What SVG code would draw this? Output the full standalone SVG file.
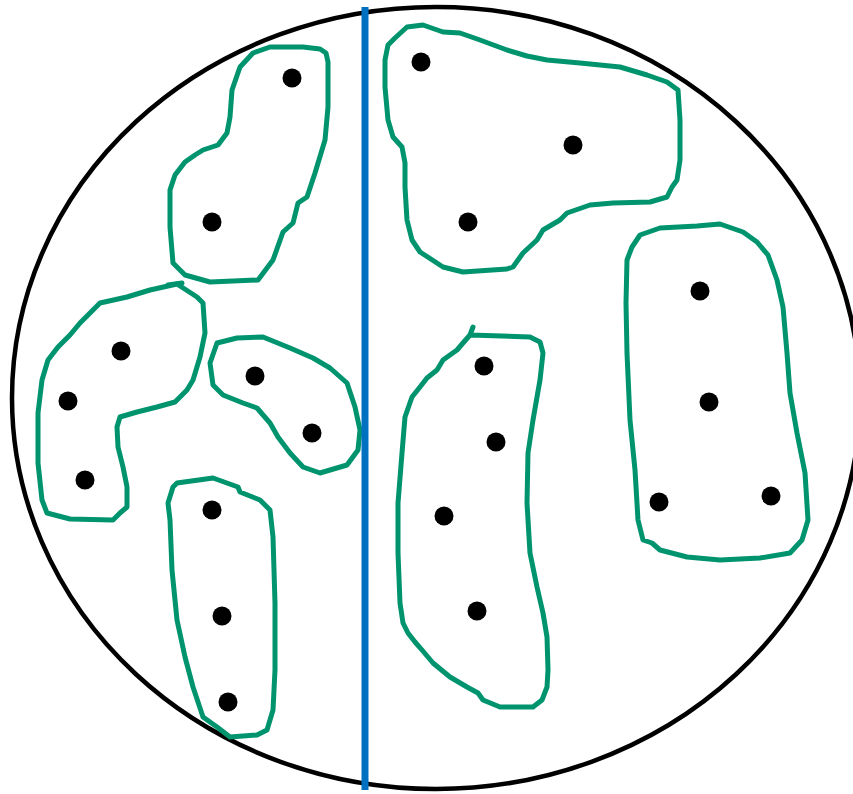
<svg xmlns="http://www.w3.org/2000/svg" width="853" height="794" viewBox="0 0 853 794">
<style>
.blob{fill:none;stroke:#00946e;stroke-width:5;stroke-linejoin:round;stroke-linecap:round}
.dot{fill:#000}
</style>
<rect width="853" height="794" fill="#fff"/>
<ellipse cx="436" cy="398" rx="424" ry="391" fill="none" stroke="#000" stroke-width="4.5"/>
<g id="blob1"><polygon class="blob" points="303,47 320,49 326,53 328,62 328,107 325,140 315,173 307,197 298,203 293,223 283,232 273,260 258,280 210,282 185,275 173,263 170,227 170,190 175,175 185,162 195,155 203,150 218,145 227,133 230,117 232,90 240,67 253,53 270,47"/></g>
<g id="blob2"><polygon class="blob" points="177,284 197,297 203,303 205,333 200,357 193,380 187,390 175,402 157,407 137,412 120,417 117,427 118,447 123,467 127,487 127,507 120,513 113,520 70,519 47,513 42,500 38,463 38,413 42,380 48,360 58,347 70,335 80,323 100,303 127,297 150,290"/><line class="blob" x1="168" y1="285" x2="182" y2="283"/></g>
<g id="blob3"><polygon class="blob" points="217,343 237,338 263,337 290,348 313,358 330,368 347,383 355,407 360,430 358,450 347,465 320,473 303,467 290,453 278,437 270,423 257,408 243,403 223,395 213,385 210,363"/></g>
<g id="blob4"><polygon class="blob" points="177,483 213,478 238,487 240,492 260,500 270,510 273,537 275,603 275,670 273,710 267,730 257,735 230,737 217,727 203,717 193,687 185,657 177,620 172,570 170,520 168,503 173,487"/></g>
<g id="blob5"><polygon class="blob" points="407,27 423,25 443,32 460,33 480,40 507,50 527,56 547,60 580,63 620,67 647,75 667,82 678,90 680,120 680,160 677,180 672,187 667,197 650,202 613,203 590,205 567,213 560,220 543,230 537,240 523,253 513,267 507,269 463,272 443,267 420,252 412,240 407,220 405,187 405,163 402,147 393,137 388,120 385,87 385,60 388,45 395,38"/></g>
<g id="blob6"><polyline class="blob" points="473,327 470,335 530,337 540,342 543,353 540,380 533,420 528,453 527,503 530,553 537,587 543,613 547,637 548,670 547,687 542,700 533,707 500,707 483,700 478,693 467,687 450,677 433,663 422,650 415,642 408,633 403,623 400,603 398,553 398,503 402,453 405,417 412,397 420,387 427,378 437,370 443,360 457,350 463,343 470,335"/></g>
<g id="blob7"><polygon class="blob" points="640,235 660,228 697,226 720,224 743,232 757,242 768,255 777,280 783,307 787,353 790,393 797,433 805,473 808,520 802,540 790,553 760,558 720,560 687,557 660,550 652,543 643,540 638,520 635,470 630,420 627,353 626,303 627,260 632,247"/></g>
<line x1="365" y1="7" x2="365" y2="790" stroke="#0070c0" stroke-width="7"/>
<g id="dots">
<circle class="dot" cx="292" cy="78" r="9.5"/>
<circle class="dot" cx="212" cy="222" r="9.5"/>
<circle class="dot" cx="121" cy="351" r="9.5"/>
<circle class="dot" cx="68" cy="401" r="9.5"/>
<circle class="dot" cx="85" cy="480" r="9.5"/>
<circle class="dot" cx="255" cy="376" r="9.5"/>
<circle class="dot" cx="312" cy="433" r="9.5"/>
<circle class="dot" cx="212" cy="510" r="9.5"/>
<circle class="dot" cx="222" cy="616" r="9.5"/>
<circle class="dot" cx="228" cy="702" r="9.5"/>
<circle class="dot" cx="421" cy="62" r="9.5"/>
<circle class="dot" cx="573" cy="145" r="9.5"/>
<circle class="dot" cx="468" cy="222" r="9.5"/>
<circle class="dot" cx="484" cy="366" r="9.5"/>
<circle class="dot" cx="496" cy="442" r="9.5"/>
<circle class="dot" cx="444" cy="516" r="9.5"/>
<circle class="dot" cx="477" cy="611" r="9.5"/>
<circle class="dot" cx="700" cy="291" r="9.5"/>
<circle class="dot" cx="709" cy="402" r="9.5"/>
<circle class="dot" cx="659" cy="502" r="9.5"/>
<circle class="dot" cx="771" cy="496" r="9.5"/>
</g>
</svg>
